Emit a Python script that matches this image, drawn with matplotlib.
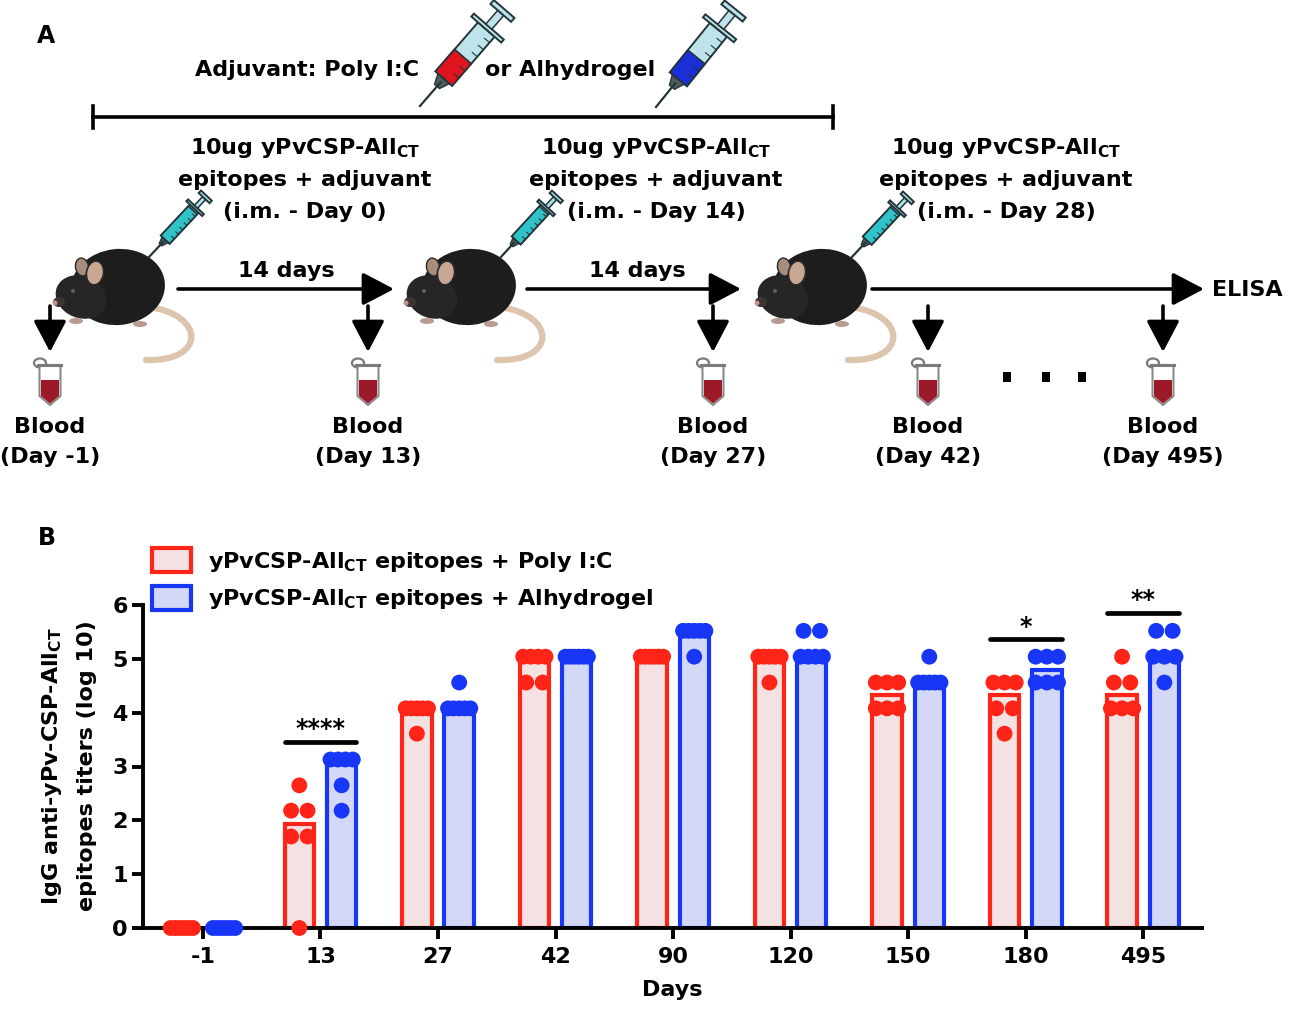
import numpy as np
import matplotlib.pyplot as plt
from matplotlib.patches import Ellipse, Polygon, Rectangle, Patch, PathPatch
from matplotlib.path import Path

plt.rcParams['font.family'] = ['DejaVu Sans']
plt.rcParams['font.weight'] = 'bold'
plt.rcParams['mathtext.fontset'] = 'dejavusans'

# log10 IgG titers, one value per mouse
days = ['-1', '13', '27', '42', '90', '120', '150', '180', '495']
poly_ic = [
    [0, 0, 0, 0, 0, 0],
    [2.65, 2.18, 2.18, 1.70, 1.70, 0],
    [4.08, 4.08, 4.08, 4.08, 4.08, 3.61],
    [5.04, 5.04, 5.04, 5.04, 4.56, 4.56],
    [5.04, 5.04, 5.04, 5.04, 5.04, 5.04],
    [5.04, 5.04, 5.04, 5.04, 5.04, 4.56],
    [4.56, 4.56, 4.56, 4.08, 4.08, 4.08],
    [4.56, 4.56, 4.56, 4.08, 4.08, 3.61],
    [5.04, 4.56, 4.56, 4.08, 4.08, 4.08],
]
alhydrogel = [
    [0, 0, 0, 0, 0, 0],
    [3.13, 3.13, 3.13, 3.13, 2.65, 2.18],
    [4.56, 4.08, 4.08, 4.08, 4.08, 4.08],
    [5.04, 5.04, 5.04, 5.04, 5.04, 5.04],
    [5.52, 5.52, 5.52, 5.52, 5.52, 5.04],
    [5.52, 5.52, 5.04, 5.04, 5.04, 5.04],
    [5.04, 4.56, 4.56, 4.56, 4.56, 4.56],
    [5.04, 5.04, 5.04, 4.56, 4.56, 4.56],
    [5.52, 5.52, 5.04, 5.04, 5.04, 4.56],
]
series_labels = [r'yPvCSP-All$_{\mathbf{CT}}$ epitopes + Poly I:C',
                 r'yPvCSP-All$_{\mathbf{CT}}$ epitopes + Alhydrogel']
sig_days = ['13', '180', '495']
sig_marks = ['****', '*', '**']
sig_heights = [3.46, 5.36, 5.86]

red, red_fill = '#FF2418', '#F4E1E1'
blue, blue_fill = '#1836F5', '#D3D8F7'
W, H = 1299, 1011


def spread(vals):
    # horizontal jitter for tied values, like a scatter-dot column
    vals = np.asarray(vals, float)
    offs = np.zeros(len(vals))
    for v in np.unique(vals):
        idx = np.where(vals == v)[0]
        k = len(idx)
        if k > 1:
            span = min((k - 1) * 0.14, 0.19)
            offs[idx] = np.linspace(-span / 2, span / 2, k)
    return offs


def draw_syringe(ax, tip, end, w, barrel, liquid, frac, edge='#24353a'):
    tip = np.array(tip, float)
    end = np.array(end, float)
    L = np.hypot(*(end - tip))
    u = (end - tip) / L
    n = np.array([-u[1], u[0]])

    def pt(s, t):
        return tip + s * L * u + t * n

    def box(s0, s1, h, fc, lw=1.4):
        ax.add_patch(Polygon([pt(s0, -h), pt(s0, h), pt(s1, h), pt(s1, -h)],
                             closed=True, fc=fc, ec=edge, lw=lw))

    ax.plot(*zip(pt(0, 0), pt(0.24, 0)), color=edge, lw=1.6)
    ax.add_patch(Polygon([pt(0.2, -w * 0.15), pt(0.2, w * 0.15), pt(0.28, w * 0.35), pt(0.28, -w * 0.35)],
                         closed=True, fc='#4d5a5e', ec=edge, lw=1))
    box(0.28, 0.78, w / 2, barrel)
    box(0.28, 0.28 + 0.5 * frac, w / 2, liquid, lw=1.2)
    for s in np.linspace(0.36, 0.72, 6):
        ax.plot(*zip(pt(s, w / 2), pt(s, w * 0.2)), color=edge, lw=0.8)
    box(0.78, 0.81, w * 0.9, barrel)
    box(0.81, 0.95, w * 0.18, barrel, lw=1.1)
    box(0.95, 0.99, w * 0.62, barrel)


def draw_mouse(ax, x0, y0):
    tail = Path([(x0 + 95, y0 + 60), (x0 + 152, y0 + 68), (x0 + 152, y0 + 115), (x0 + 92, y0 + 113)],
                [Path.MOVETO, Path.CURVE4, Path.CURVE4, Path.CURVE4])
    ax.add_patch(PathPatch(tail, fill=False, ec='#dcc4ad', lw=4.5, capstyle='round'))
    ax.add_patch(Ellipse((x0 + 64, y0 + 40), 94, 76, angle=-6, fc='#1d1d1d', ec='none'))
    ax.add_patch(Ellipse((x0 + 27, y0 + 50), 52, 42, angle=22, fc='#262626', ec='none'))
    ax.add_patch(Ellipse((x0 + 5, y0 + 55), 12, 10, fc='#3a3433', ec='none'))
    ax.add_patch(Ellipse((x0 + 1, y0 + 56), 5, 5, fc='#c9908a', ec='none'))
    ax.add_patch(Ellipse((x0 + 28, y0 + 20), 13, 18, angle=-10, fc='#a88c7c', ec='#2a2a2a', lw=1))
    ax.add_patch(Ellipse((x0 + 41, y0 + 26), 17, 24, angle=10, fc='#c9a792', ec='#2a2a2a', lw=1.2))
    ax.add_patch(Ellipse((x0 + 19, y0 + 44), 4, 4, fc='#6b5a55', ec='none'))
    ax.add_patch(Ellipse((x0 + 22, y0 + 74), 14, 6, fc='#b89a8e', ec='none'))
    ax.add_patch(Ellipse((x0 + 86, y0 + 77), 14, 6, fc='#b89a8e', ec='none'))


def draw_tube(ax, cx, top):
    w, h = 21, 40
    ax.add_patch(Ellipse((cx - 10, top - 2), 12, 9, fc='white', ec='#7a7a7a', lw=1.6))
    ax.add_patch(Polygon([(cx - w / 2, top), (cx + w / 2, top), (cx + w / 2, top + h - 9), (cx, top + h),
                          (cx - w / 2, top + h - 9)], closed=True, fc='white', ec='#8a8a8a', lw=1.5))
    ax.add_patch(Polygon([(cx - w / 2 + 1.5, top + 15), (cx + w / 2 - 1.5, top + 15), (cx + w / 2 - 1.5, top + h - 9),
                          (cx, top + h - 1.5), (cx - w / 2 + 1.5, top + h - 9)], closed=True, fc='#9c1a28', ec='none'))
    ax.plot([cx - w / 2 - 1, cx + w / 2 + 1], [top, top], color='#7a7a7a', lw=2.2)


fig = plt.figure(figsize=(12.99, 10.11), dpi=100)

# ---------------- Panel A: immunisation schematic (pixel coordinates) ----------------
axA = fig.add_axes([0, 0, 1, 1], zorder=-1)
axA.set_xlim(0, W)
axA.set_ylim(H, 0)
axA.axis('off')

fs = 16
axA.text(37, 43, 'A', fontsize=17, ha='left', va='baseline')
axA.text(195, 76, 'Adjuvant: Poly I:C', fontsize=fs, ha='left', va='baseline')
axA.text(485, 76, 'or Alhydrogel', fontsize=fs, ha='left', va='baseline')
draw_syringe(axA, (420, 106), (505, 8), 22, '#bfe3ea', '#e0141e', 0.45)
draw_syringe(axA, (656, 107), (736, 8), 22, '#bfe3ea', '#1a2fd8', 0.45)

axA.plot([93, 833], [117, 117], color='k', lw=2.6)
axA.plot([93, 93], [106, 128], color='k', lw=2.6)
axA.plot([833, 833], [106, 128], color='k', lw=2.6)

for cx, d in zip([305, 656, 1006], ['0', '14', '28']):
    axA.text(cx, 154, r'10ug yPvCSP-All$_{\mathbf{CT}}$', fontsize=fs, ha='center', va='baseline')
    axA.text(cx, 186, 'epitopes + adjuvant', fontsize=fs, ha='center', va='baseline')
    axA.text(cx, 218, f'(i.m. - Day {d})', fontsize=fs, ha='center', va='baseline')

for tip, end in [((149, 257), (207, 195)), ((500, 258), (558, 195)), ((851, 258), (909, 196))]:
    draw_syringe(axA, tip, end, 12, '#a8e2e6', '#2fc3c9', 0.95)

for x0 in [54, 405, 756]:
    draw_mouse(axA, x0, 247)

arrow = dict(arrowstyle='-|>,head_length=0.8,head_width=0.42', lw=2.6, color='k',
             mutation_scale=24, shrinkA=0, shrinkB=0)
for xs, xe in [(178, 394), (527, 741), (872, 1204)]:
    axA.annotate('', xy=(xe, 289), xytext=(xs, 289), arrowprops=arrow)
axA.text(286, 277, '14 days', fontsize=fs, ha='center', va='baseline')
axA.text(637, 277, '14 days', fontsize=fs, ha='center', va='baseline')
axA.text(1212, 290, 'ELISA', fontsize=fs, ha='left', va='center')

blood_x = [50, 368, 713, 928, 1163]
blood_days = ['-1', '13', '27', '42', '495']
for bx, bd in zip(blood_x, blood_days):
    axA.annotate('', xy=(bx, 352), xytext=(bx, 306), arrowprops=arrow)
    draw_tube(axA, bx, 365)
    axA.text(bx, 433, 'Blood', fontsize=fs, ha='center', va='baseline')
    axA.text(bx, 463, f'(Day {bd})', fontsize=fs, ha='center', va='baseline')
for dx in [1007, 1046, 1082]:
    axA.add_patch(Rectangle((dx - 4, 372), 8, 10, fc='k', ec='none'))

# ---------------- Panel B: IgG titers ----------------
ax = fig.add_axes([143 / W, 1 - 928 / H, (1202 - 143) / W, (928 - 605) / H])
x = np.arange(len(days))
off, width = 0.18, 0.25

for sign, data, col, fill in [(-1, poly_ic, red, red_fill), (1, alhydrogel, blue, blue_fill)]:
    med = [np.median(v) for v in data]
    ax.bar(x + sign * off, med, width=width, color=fill, edgecolor=col, linewidth=3, zorder=2)
    for i, v in enumerate(data):
        ax.scatter(x[i] + sign * off + spread(v), v, s=130, color=col, edgecolors='none',
                   zorder=4, clip_on=False)

for d, mark, h in zip(sig_days, sig_marks, sig_heights):
    i = days.index(d)
    ax.plot([i - off - width / 2, i + off + width / 2], [h, h], color='k', lw=3.4,
            solid_capstyle='round', clip_on=False, zorder=5)
    ax.text(i, h + 0.1, mark, fontsize=17, ha='center', va='baseline', clip_on=False)

ax.set_xlim(-0.51, 8.5)
ax.set_ylim(0, 6)
ax.set_xticks(x)
ax.set_xticklabels(days)
ax.set_yticks(range(7))
for s in ['top', 'right']:
    ax.spines[s].set_visible(False)
for s in ['left', 'bottom']:
    ax.spines[s].set_linewidth(2.8)
    ax.spines[s].set_zorder(3)
ax.tick_params(axis='both', width=2.8, length=8, labelsize=16)
ax.tick_params(axis='y', pad=3)
ax.tick_params(axis='x', pad=6)
ax.set_xlabel('Days', fontsize=16, fontweight='bold', labelpad=9)

fig.text(52 / W, 1 - 766 / H, r'IgG anti-yPv-CSP-All$_{\mathbf{CT}}$', rotation=90,
         fontsize=16, ha='center', va='center')
fig.text(87 / W, 1 - 766 / H, 'epitopes titers (log 10)', rotation=90,
         fontsize=16, ha='center', va='center')
fig.text(38 / W, 1 - 538 / H, 'B', fontsize=17, ha='left', va='center')

handles = [Patch(facecolor=red_fill, edgecolor=red, linewidth=3),
           Patch(facecolor=blue_fill, edgecolor=blue, linewidth=3)]
fig.legend(handles, series_labels, loc='upper left', bbox_to_anchor=(152 / W, 1 - 548 / H),
           frameon=False, fontsize=16, handlelength=1.75, handleheight=1.3,
           labelspacing=0.55, handletextpad=0.75, borderpad=0, borderaxespad=0)

fig.savefig('out.png', dpi=100)
